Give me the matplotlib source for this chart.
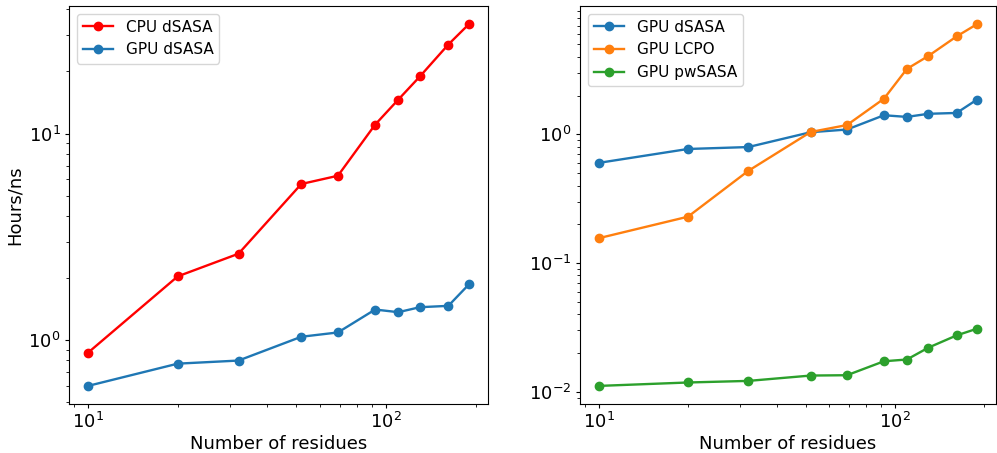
import numpy as np
import matplotlib
matplotlib.use('Agg')
import matplotlib.pyplot as plt

# residue counts of the test systems
residues = [10, 20, 32, 52, 69, 92, 110, 130, 162, 190]

cpu_dsasa = [0.869, 2.035, 2.62, 5.70, 6.25, 11.05, 14.6, 18.9, 27.0, 33.9]
gpu_dsasa = [0.600, 0.769, 0.796, 1.038, 1.089, 1.406, 1.365, 1.443, 1.465, 1.862]
gpu_lcpo = [0.156, 0.229, 0.520, 1.042, 1.18, 1.89, 3.22, 4.06, 5.76, 7.18]
gpu_pwsasa = [0.0111, 0.0118, 0.01214, 0.01336, 0.01344, 0.01725, 0.0178, 0.0220, 0.0274, 0.0309]

W, H = 997, 453
fig = plt.figure(figsize=(W / 100, H / 100), dpi=100)
ax1 = fig.add_axes([69 / W, 49 / H, 419 / W, 398 / H])
ax2 = fig.add_axes([580 / W, 49 / H, 416 / W, 398 / H])

ax1.plot(residues, cpu_dsasa, 'o-', color='red', lw=1.7, label='CPU dSASA')
ax1.plot(residues, gpu_dsasa, 'o-', color='tab:blue', lw=1.7, label='GPU dSASA')
ax1.set_ylabel('Hours/ns', fontsize=13, labelpad=3)

ax2.plot(residues, gpu_dsasa, 'o-', color='tab:blue', lw=1.7, label='GPU dSASA')
ax2.plot(residues, gpu_lcpo, 'o-', color='tab:orange', lw=1.7, label='GPU LCPO')
ax2.plot(residues, gpu_pwsasa, 'o-', color='tab:green', lw=1.7, label='GPU pwSASA')

for ax in (ax1, ax2):
    ax.set_xscale('log')
    ax.set_yscale('log')
    ax.set_xlabel('Number of residues', fontsize=13, labelpad=2)
    ax.tick_params(axis='both', which='major', labelsize=13, length=3, pad=3)
    ax.tick_params(axis='both', which='minor', length=2)
    ax.legend(loc='upper left', fontsize=11)

fig.savefig('out.png', dpi=100)
